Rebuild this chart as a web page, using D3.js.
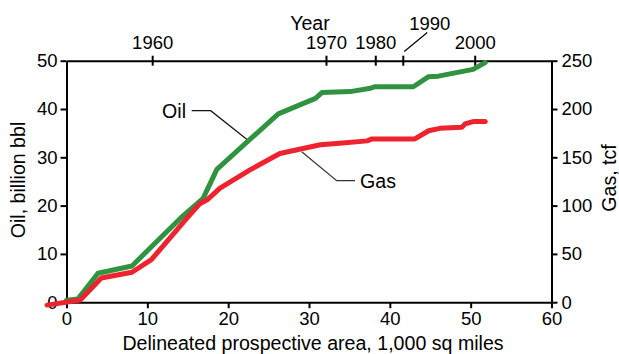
<!DOCTYPE html>
<html>
<head>
<meta charset="utf-8">
<script src="https://cdn.jsdelivr.net/npm/d3@7"></script>
<style>
  html, body { margin: 0; padding: 0; background: #fff; }
  svg { display: block; font-family: "Liberation Sans", Arial, sans-serif; }
</style>
</head>
<body>
<svg id="chart" width="619" height="354"></svg>
<script>
// Cumulative discoveries versus delineated prospective area (1,000 sq miles)
const oilArea = [0, 1.4, 3.9, 8.1, 10.7, 14.1, 16.9, 18.6, 26.2, 30.8, 31.6, 35.1, 37.6, 38.1, 42.9, 44.8, 46.0, 50.3, 51.8];
const oilValues = [0.4, 0.65, 6.0, 7.5, 11.8, 17.4, 21.5, 27.5, 39.0, 42.2, 43.4, 43.6, 44.3, 44.6, 44.6, 46.7, 46.8, 48.2, 49.6];

const gasArea = [-2.4, 1.7, 4.3, 8.1, 10.5, 14.9, 16.5, 17.4, 19.0, 22.7, 26.4, 31.4, 33.8, 37.2, 37.8, 43.1, 44.8, 46.2, 48.9, 49.3, 50.3, 51.8];
const gasValues = [-3, 2.3, 25, 31, 44, 87, 102, 106, 118, 137, 154, 163, 164.5, 167, 169, 169, 177.5, 180, 181, 184.5, 187, 187];

// Top axis: year reached at a given cumulative area
const yearLabels = [1960, 1970, 1980, 1990, 2000];
const yearArea = [10.6, 32.1, 38.2, 41.6, 50.5];

const areaTicks = [0, 10, 20, 30, 40, 50, 60];
const oilTicks = [0, 10, 20, 30, 40, 50];
const gasTicks = [0, 50, 100, 150, 200, 250];

const svg = d3.select("#chart");
const TICK_FONT = 18.5;
const TITLE_FONT = 19.6;

const x = d3.scaleLinear().domain([0, 60]).range([66.5, 551.5]);
const yOil = d3.scaleLinear().domain([0, 50]).range([302.2, 60.7]);
const yGas = d3.scaleLinear().domain([0, 250]).range([302.2, 60.7]);

function styleAxis(g) {
  g.select(".domain").attr("stroke", "#000").attr("stroke-width", 2);
  g.selectAll(".tick line").attr("stroke", "#000").attr("stroke-width", 2);
  g.selectAll(".tick text").attr("fill", "#000").style("font-size", TICK_FONT + "px")
    .style("font-family", "'Liberation Sans', Arial, sans-serif");
}

// Bottom axis
svg.append("g")
  .attr("transform", `translate(0,${yOil(0)})`)
  .call(d3.axisBottom(x).tickValues(areaTicks).tickSize(6).tickSizeOuter(0).tickPadding(4))
  .call(styleAxis);

// Left axis (oil)
svg.append("g")
  .attr("transform", `translate(${x(0)},0)`)
  .call(d3.axisLeft(yOil).tickValues(oilTicks).tickSize(6).tickSizeOuter(0).tickPadding(3))
  .call(styleAxis);

// Right axis (gas)
svg.append("g")
  .attr("transform", `translate(${x(60)},0)`)
  .call(d3.axisRight(yGas).tickValues(gasTicks).tickSize(6).tickSizeOuter(0).tickPadding(4))
  .call(styleAxis);

// Top axis (years)
const yearAxis = svg.append("g")
  .attr("transform", `translate(0,${yOil(50)})`)
  .call(d3.axisTop(x).tickValues(yearArea).tickSize(5).tickSizeOuter(0).tickPadding(7)
    .tickFormat((d, i) => yearLabels[i] === 1990 ? "" : yearLabels[i]))
  .call(styleAxis);
yearAxis.selectAll(".tick line").attr("y1", 5).attr("y2", -5);

// 1990 label sits off to the side with a leader
const a1990 = yearArea[yearLabels.indexOf(1990)];
svg.append("line")
  .attr("x1", x(a1990) + 1.5).attr("y1", 51.5)
  .attr("x2", x(a1990) + 24.5).attr("y2", 32.5)
  .attr("stroke", "#000").attr("stroke-width", 1.2);
svg.append("text")
  .attr("x", x(a1990) + 27).attr("y", 30)
  .attr("text-anchor", "middle")
  .style("font-size", TICK_FONT + "px")
  .text("1990");

svg.append("text")
  .attr("x", 310).attr("y", 30)
  .attr("text-anchor", "middle")
  .style("font-size", TITLE_FONT + "px")
  .text("Year");

// Axis titles
svg.append("text")
  .attr("x", 313).attr("y", 350)
  .attr("text-anchor", "middle")
  .style("font-size", TITLE_FONT + "px")
  .text("Delineated prospective area, 1,000 sq miles");

svg.append("text")
  .attr("transform", "translate(25,180) rotate(-90)")
  .attr("text-anchor", "middle")
  .style("font-size", TITLE_FONT + "px")
  .text("Oil, billion bbl");

svg.append("text")
  .attr("transform", "translate(616,178) rotate(-90)")
  .attr("text-anchor", "middle")
  .style("font-size", TITLE_FONT + "px")
  .text("Gas, tcf");

// Series lines
const oilLine = d3.line().x((d, i) => x(oilArea[i])).y(d => yOil(d));
const gasLine = d3.line().x((d, i) => x(gasArea[i])).y(d => yGas(d));

svg.append("path")
  .datum(oilValues)
  .attr("d", oilLine)
  .attr("fill", "none")
  .attr("stroke", "#2f9340")
  .attr("stroke-width", 5)
  .attr("stroke-linejoin", "round")
  .attr("stroke-linecap", "round");

svg.append("path")
  .datum(gasValues)
  .attr("d", gasLine)
  .attr("fill", "none")
  .attr("stroke", "#ee2330")
  .attr("stroke-width", 5)
  .attr("stroke-linejoin", "round")
  .attr("stroke-linecap", "round");

// Series labels with leaders
svg.append("text")
  .attr("x", 186).attr("y", 118)
  .attr("text-anchor", "end")
  .style("font-size", TITLE_FONT + "px")
  .text("Oil");
svg.append("path")
  .attr("d", "M191.7,110.7 L210.7,110.7 L246.7,139.3")
  .attr("fill", "none").attr("stroke", "#111").attr("stroke-width", 1.2);

svg.append("text")
  .attr("x", 360).attr("y", 188)
  .style("font-size", TITLE_FONT + "px")
  .text("Gas");
svg.append("path")
  .attr("d", "M301.7,151.7 L336.7,180.7 L355,180.7")
  .attr("fill", "none").attr("stroke", "#333").attr("stroke-width", 1.2);
</script>
</body>
</html>
